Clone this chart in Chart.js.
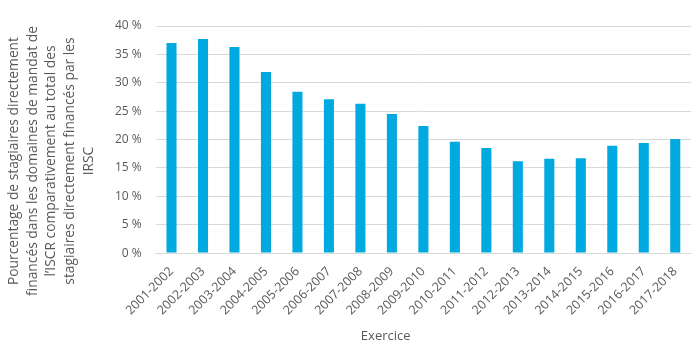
<!DOCTYPE html>
<html>
<head>
<meta charset="utf-8">
<script src="https://cdn.jsdelivr.net/npm/chart.js@4/dist/chart.umd.min.js"></script>
<style>
  html, body { margin: 0; padding: 0; background: #fff; }
  #wrap { width: 700px; height: 350px; position: relative; }
</style>
</head>
<body>
<div id="wrap"><canvas id="stagiaires"></canvas></div>
<script>
// exercices (categories)
var exercices = ["2001-2002", "2002-2003", "2003-2004", "2004-2005", "2005-2006",
                 "2006-2007", "2007-2008", "2008-2009", "2009-2010", "2010-2011",
                 "2011-2012", "2012-2013", "2013-2014", "2014-2015", "2015-2016",
                 "2016-2017", "2017-2018"];
// pourcentage de stagiaires
var pourcentages = [37.0, 37.7, 36.3, 31.9, 28.4, 27.1, 26.3, 24.5, 22.4, 19.6,
                    18.5, 16.2, 16.6, 16.7, 18.9, 19.4, 20.1];
var yTitre = ["Pourcentage de stagiaires directement",
              "financés dans les domaines de mandat de",
              "l\u2019ISCR comparativement au total des",
              "stagiaires directement financés par les",
              "IRSC"];
var xTitre = "Exercice";

var gris = "#595959";
var police = "'Open Sans', 'Noto Sans', sans-serif";
Chart.defaults.font.family = police;
Chart.defaults.color = gris;

// axis titles are centred on the whole chart like in Excel, not on the plot
var titres = {
    id: 'titres',
    afterDraw: function(chart) {
        var c = chart.ctx;
        c.save();
        c.fillStyle = gris;
        c.textAlign = 'center';
        c.textBaseline = 'middle';
        c.font = "13.8px " + police;
        var cy = chart.height * 0.46;
        for (var i = 0; i < yTitre.length; i++) {
            c.save();
            c.translate(14 + i * 18.7, cy);
            c.rotate(-Math.PI / 2);
            c.fillText(yTitre[i], 0, 0);
            c.restore();
        }
        c.font = "13px " + police;
        c.fillText(xTitre, chart.width * 0.551, chart.height - 14);
        c.restore();
    }
};

var ctx = document.getElementById("stagiaires");
var chart = new Chart(ctx, {
    type: 'bar',
    data: {
        labels: exercices,
        datasets: [{
            label: 'Pourcentage',
            data: pourcentages,
            backgroundColor: '#00a9e0',
            borderWidth: 0,
            categoryPercentage: 1.0,
            barPercentage: 0.32
        }]
    },
    options: {
        responsive: true,
        maintainAspectRatio: false,
        animation: false,
        layout: { padding: { left: 101, right: 9, top: 26, bottom: 21 } },
        plugins: {
            legend: { display: false },
            tooltip: { enabled: false }
        },
        scales: {
            x: {
                grid: { display: false, drawTicks: false },
                border: { color: '#d9d9d9' },
                ticks: {
                    maxRotation: 45, minRotation: 45, autoSkip: false,
                    font: { size: 12.5 }, color: gris, padding: 11
                }
            },
            y: {
                min: 0, max: 40,
                grid: { color: '#d9d9d9', drawTicks: false },
                border: { display: false },
                ticks: {
                    stepSize: 5, padding: 14, color: gris, font: { size: 12 },
                    callback: function(v) { return v + '\u00a0%'; }
                }
            }
        }
    },
    plugins: [titres]
});
</script>
</body>
</html>
